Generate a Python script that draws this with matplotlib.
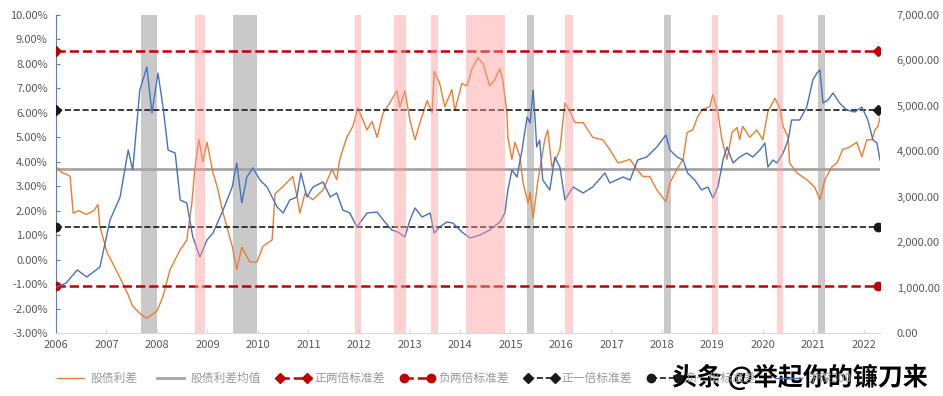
import numpy as np
import matplotlib.pyplot as plt
import matplotlib.patheffects as pe

plt.rcParams['font.family'] = ['Noto Sans CJK SC', 'DejaVu Sans']

# 股债利差 (%)，时间为距 2006 年初的年数
spread_t = [0.02, 0.12, 0.2, 0.28, 0.34, 0.45, 0.6, 0.75, 0.83, 0.87, 1.01, 1.21, 1.41, 1.52,
            1.66, 1.80, 1.90, 2.00, 2.12, 2.26, 2.46, 2.59, 2.69, 2.75, 2.83, 2.91, 2.99, 3.11,
            3.19, 3.31, 3.49, 3.58, 3.68, 3.84, 3.98, 4.10, 4.28, 4.34, 4.50, 4.63, 4.69, 4.79,
            4.83, 4.93, 5.09, 5.29, 5.47, 5.56, 5.62, 5.76, 5.88, 5.98, 6.16, 6.26, 6.36, 6.48,
            6.61, 6.75, 6.81, 6.91, 7.01, 7.11, 7.21, 7.35, 7.45, 7.49, 7.60, 7.70, 7.84, 7.90,
            8.04, 8.14, 8.24, 8.36, 8.46, 8.59, 8.69, 8.79, 8.85, 8.93, 8.95, 9.03, 9.09, 9.19,
            9.25, 9.35, 9.39, 9.45, 9.54, 9.68, 9.74, 9.82, 9.92, 9.98, 10.08, 10.18, 10.28,
            10.44, 10.63, 10.83, 10.97, 11.13, 11.37, 11.50, 11.62, 11.76, 11.90, 12.08, 12.16,
            12.30, 12.42, 12.50, 12.61, 12.71, 12.81, 12.95, 13.01, 13.11, 13.19, 13.29, 13.39,
            13.49, 13.54, 13.60, 13.74, 13.88, 14.00, 14.10, 14.24, 14.34, 14.40, 14.50, 14.53,
            14.67, 14.87, 15.03, 15.13, 15.23, 15.37, 15.47, 15.58, 15.72, 15.86, 15.96, 16.06,
            16.16, 16.22, 16.28, 16.34]
spread_v = [3.76, 3.55, 3.5, 3.4, 1.9, 2.0, 1.85, 2.0, 2.25, 1.35, 0.3, -0.5, -1.35, -1.9,
            -2.2, -2.4, -2.25, -2.1, -1.5, -0.4, 0.4, 0.8, 2.3, 3.7, 4.9, 4.0, 4.8, 3.55,
            3.0, 1.9, 0.55, -0.4, 0.5, -0.1, -0.1, 0.55, 0.8, 2.7, 3.0, 3.27, 3.4, 2.4,
            1.9, 2.7, 2.45, 2.85, 3.7, 3.27, 4.1, 5.0, 5.45, 6.2, 5.3, 5.65, 5.0, 6.0,
            6.4, 6.9, 6.25, 6.9, 5.7, 4.9, 5.6, 6.5, 6.0, 7.7, 7.2, 6.25, 6.95, 6.1,
            7.2, 7.1, 7.8, 8.25, 8.0, 7.1, 7.35, 7.8, 7.35, 6.0, 5.0, 4.1, 4.8, 4.2,
            3.15, 2.3, 2.75, 1.7, 3.15, 4.9, 5.3, 3.8, 4.2, 4.5, 6.4, 6.05, 5.6,
            5.6, 5.0, 4.9, 4.5, 3.95, 4.1, 3.7, 3.4, 3.4, 2.85, 2.37, 3.15,
            3.7, 4.1, 5.2, 5.3, 5.85, 6.15, 6.25, 6.75, 6.0, 4.9, 4.1, 5.2,
            5.4, 4.9, 5.45, 5.0, 5.3, 4.9, 6.05, 6.6, 6.15, 5.45, 5.0, 3.95,
            3.55, 3.27, 2.95, 2.45, 3.27, 3.8, 3.95, 4.5, 4.6, 4.8, 4.2, 4.9,
            4.9, 5.3, 5.45, 6.0]

# 沪深300 收盘点位
hs300_t = [0.02, 0.2, 0.42, 0.61, 0.87, 1.07, 1.27, 1.43, 1.52, 1.66, 1.80, 1.90, 2.02, 2.12,
           2.22, 2.36, 2.46, 2.59, 2.71, 2.85, 2.99, 3.11, 3.31, 3.49, 3.58, 3.68, 3.78, 3.90,
           4.04, 4.18, 4.38, 4.50, 4.63, 4.77, 4.85, 4.97, 5.09, 5.29, 5.43, 5.56, 5.68, 5.82,
           5.96, 6.16, 6.36, 6.48, 6.65, 6.77, 6.91, 7.01, 7.11, 7.25, 7.41, 7.49, 7.60, 7.74,
           7.86, 8.04, 8.20, 8.40, 8.59, 8.79, 8.89, 8.95, 9.03, 9.13, 9.23, 9.33, 9.39, 9.45,
           9.49, 9.52, 9.58, 9.64, 9.78, 9.88, 9.98, 10.08, 10.24, 10.44, 10.63, 10.87, 10.97,
           11.23, 11.37, 11.52, 11.70, 11.90, 12.08, 12.16, 12.30, 12.42, 12.51, 12.65, 12.79,
           12.91, 13.01, 13.11, 13.21, 13.29, 13.41, 13.54, 13.68, 13.80, 13.94, 14.04, 14.10,
           14.20, 14.28, 14.40, 14.50, 14.57, 14.73, 14.87, 14.99, 15.07, 15.13, 15.19, 15.29,
           15.39, 15.52, 15.66, 15.82, 15.96, 16.08, 16.18, 16.26, 16.32]
hs300_v = [1013, 1100, 1387, 1233, 1453, 2487, 2994, 4028, 3588, 5349, 5855, 4843, 5723, 4975,
           4028, 3962, 2928, 2862, 2113, 1673, 2047, 2201, 2707, 3214, 3742, 2862, 3434, 3632,
           3368, 3214, 2773, 2641, 2928, 2994, 3522, 2994, 3214, 3324, 2994, 3082, 2707, 2641,
           2333, 2641, 2663, 2487, 2267, 2223, 2113, 2487, 2751, 2553, 2641, 2201, 2333, 2443,
           2421, 2223, 2091, 2157, 2267, 2443, 2641, 3148, 3588, 3434, 4028, 4755, 4622, 5349,
           4689, 4094, 4248, 3368, 3148, 3874, 3654, 2928, 3214, 3082, 3214, 3522, 3302,
           3434, 3368, 3808, 3874, 4094, 4358, 4028, 3874, 3808, 3522, 3368, 3148,
           3214, 2972, 3214, 3808, 4094, 3742, 3874, 3962, 3874, 4028, 4182, 3654,
           3808, 3742, 3962, 4248, 4689, 4689, 4975, 5569, 5723, 5789, 5063, 5129,
           5283, 5063, 4909, 4865, 4975, 4689, 4248, 4182, 3808]

spread_mean = 3.72
spread_std = 2.40
line_end = 2022.28

gray_bands = [(2007.68, 2008.00), (2009.50, 2009.98), (2015.33, 2015.47),
              (2018.04, 2018.18), (2021.09, 2021.23)]
pink_bands = [(2008.75, 2008.95), (2011.92, 2012.04), (2012.69, 2012.93),
              (2013.43, 2013.56), (2014.12, 2014.89), (2016.08, 2016.24),
              (2018.99, 2019.11), (2020.28, 2020.40)]

years = list(range(2006, 2023))

fig = plt.figure(figsize=(9.43, 3.96), dpi=100)
ax = fig.add_axes([56 / 943, 1 - 333 / 396, (880 - 56) / 943, (333 - 15) / 396])
ax2 = ax.twinx()

ax.set_xlim(2006, 2022.32)
ax.set_ylim(-3, 10)
ax2.set_ylim(0, 7000)

for a, b in gray_bands:
    ax.axvspan(a, b, color='#c9c9c9', lw=0, zorder=0)

x_sp = 2006 + np.array(spread_t)
x_hs = 2006 + np.array(hs300_t)

h_spread, = ax.plot(x_sp, spread_v, color='#ED7D31', lw=1.0, label='股债利差', zorder=3)
h_mean, = ax.plot([2006, 2022.32], [spread_mean] * 2, color='#A5A5A5', lw=2, label='股债利差均值', zorder=2)
h_p2, = ax.plot([2006, line_end], [spread_mean + 2 * spread_std] * 2, color='#C00000', ls='--', lw=1.8,
                marker='D', ms=5, label='正两倍标准差', zorder=4)
h_m2, = ax.plot([2006, line_end], [spread_mean - 2 * spread_std] * 2, color='#C00000', ls='--', lw=1.8,
                marker='o', ms=6, label='负两倍标准差', zorder=4)
h_p1, = ax.plot([2006, line_end], [spread_mean + spread_std] * 2, color='#1a1a1a', ls='--', lw=1.2,
                marker='D', ms=5, label='正一倍标准差', zorder=4)
h_m1, = ax.plot([2006, line_end], [spread_mean - spread_std] * 2, color='#1a1a1a', ls='--', lw=1.2,
                marker='o', ms=6, label='负一倍标准差', zorder=4)
h_hs, = ax2.plot(x_hs, hs300_v, color='#4472C4', lw=1.0, label='沪深300', zorder=3)

for a, b in pink_bands:
    ax2.axvspan(a, b, color='#ff9a9a', alpha=0.45, lw=0, zorder=5)

# 坐标轴样式
ax.set_yticks(np.arange(-3, 11, 1))
ax.set_yticklabels(['%.2f%%' % v for v in np.arange(-3, 11, 1)])
ax.set_xticks(years)
ax.set_xticklabels([str(y) for y in years])
ax2.set_yticks(np.arange(0, 8000, 1000))
ax2.set_yticklabels(['{:,.2f}'.format(v) for v in np.arange(0, 8000, 1000)])

for s in ['top', 'right']:
    ax.spines[s].set_visible(False)
for s in ['top', 'right', 'left', 'bottom']:
    ax2.spines[s].set_visible(False)
ax.spines['left'].set_color('#4F81D0')
ax.spines['bottom'].set_color('#d9d9d9')
ax.tick_params(axis='y', direction='in', length=3, color='#4F81D0', labelsize=8,
               labelcolor='#595959', pad=6)
ax.tick_params(axis='x', direction='in', length=3, color='#d9d9d9', labelsize=8,
               labelcolor='#595959', pad=5)
ax2.tick_params(axis='y', length=0, labelsize=8, labelcolor='#595959', pad=12)

fig.legend(handles=[h_spread, h_mean, h_p2, h_m2, h_p1, h_m1, h_hs], loc='center',
           bbox_to_anchor=(0.48, 0.045), ncol=7, frameon=False, fontsize=8.5, numpoints=2,
           handlelength=2.9, handletextpad=0.3, columnspacing=1.3, labelcolor='#999999')

fig.text(672 / 943, 1 - 377 / 396, '头条 @举起你的镰刀来', fontsize=18, color='black',
         va='center', ha='left', weight='bold',
         path_effects=[pe.withStroke(linewidth=3, foreground='white')])

fig.savefig('out.png', dpi=100)
